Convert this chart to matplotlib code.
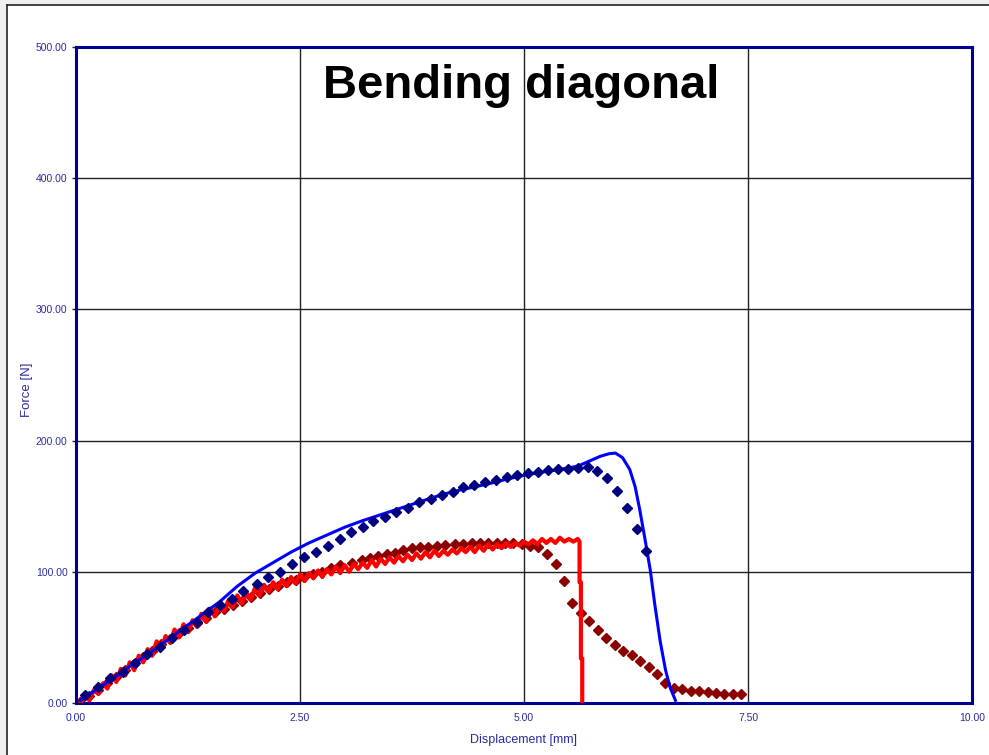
import matplotlib
matplotlib.use("Agg")
import matplotlib.pyplot as plt
from matplotlib.patches import Rectangle
from matplotlib.lines import Line2D

# Test record, bending along the diagonal: force vs displacement
# Simulation (solid) and experiment (diamonds), two specimen variants

# blue: simulation curve
sim_blue_x = [0.05, 0.2, 0.4, 0.6, 0.8, 1.0, 1.2, 1.4, 1.6, 1.8, 2.0, 2.2, 2.4, 2.6,
              2.8, 3.0, 3.2, 3.4, 3.6, 3.8, 4.0, 4.2, 4.4, 4.6, 4.8, 5.0, 5.2, 5.4,
              5.6, 5.75, 5.85, 5.95, 6.02, 6.10, 6.18, 6.24, 6.29, 6.35, 6.41, 6.46,
              6.52, 6.58, 6.63, 6.69]
sim_blue_y = [2, 9, 18, 28, 37, 47, 57, 67, 77, 89, 99, 107, 115, 122,
              128, 134, 139, 143.5, 148, 152.5, 157, 161, 164, 167, 170.5, 173.5, 176, 178,
              180.5, 185, 188, 190, 190.5, 187, 178, 165, 148, 125, 101, 75,
              47, 25, 12, 2]

# navy: experiment for the blue variant
exp_blue_x = [0.10, 0.25, 0.38, 0.52, 0.66, 0.79, 0.94, 1.07, 1.21, 1.35, 1.47, 1.61,
              1.74, 1.86, 2.02, 2.14, 2.28, 2.41, 2.54, 2.68, 2.81, 2.95, 3.07, 3.20,
              3.31, 3.45, 3.57, 3.71, 3.83, 3.96, 4.08, 4.21, 4.32, 4.44, 4.56, 4.69,
              4.81, 4.92, 5.04, 5.16, 5.27, 5.38, 5.49, 5.60, 5.71, 5.82, 5.93, 6.04,
              6.15, 6.26, 6.36]
exp_blue_y = [6, 12, 19, 24, 30.5, 37, 43, 49.5, 56, 62, 69, 75,
              79, 85, 91, 96, 100, 106, 111, 115, 120, 125, 130, 134,
              139, 142, 145.5, 149, 153, 155.5, 158.5, 161, 164.5, 166, 168.5, 170,
              172, 174, 175, 176, 177.5, 178, 178, 179, 180, 177, 171.5, 161.5,
              149, 132.5, 116]

# red: simulation curve (noisy signal)
sim_red_x = [0.05, 0.10, 0.15, 0.20, 0.25, 0.30, 0.35, 0.40, 0.45, 0.50, 0.55, 0.60,
             0.65, 0.70, 0.75, 0.80, 0.85, 0.90, 0.95, 1.00, 1.05, 1.10, 1.15, 1.20,
             1.25, 1.30, 1.35, 1.40, 1.45, 1.50, 1.55, 1.60, 1.65, 1.70, 1.75, 1.80,
             1.85, 1.90, 1.95, 2.00, 2.05, 2.10, 2.15, 2.20, 2.25, 2.30, 2.35, 2.40,
             2.45, 2.50, 2.55, 2.60, 2.65, 2.70, 2.75, 2.80, 2.85, 2.90, 2.95, 3.00,
             3.05, 3.10, 3.15, 3.20, 3.25, 3.30, 3.35, 3.40, 3.45, 3.50, 3.55, 3.60,
             3.65, 3.70, 3.75, 3.80, 3.85, 3.90, 3.95, 4.00, 4.05, 4.10, 4.15, 4.20,
             4.25, 4.30, 4.35, 4.40, 4.45, 4.50, 4.55, 4.60, 4.65, 4.70, 4.75, 4.80,
             4.85, 4.90, 4.95, 5.00, 5.05, 5.10, 5.15, 5.20, 5.25, 5.30, 5.35, 5.40,
             5.45, 5.50, 5.55, 5.60, 5.62, 5.62, 5.635, 5.635, 5.65, 5.65]
sim_red_y = [0, 5, 2, 10, 7, 15, 11, 21, 16, 26, 21, 31,
             25, 36, 31, 41, 36, 47, 41, 51, 46, 56, 50, 60,
             54, 63, 58, 68, 62, 72, 66, 75, 70, 78, 73, 82,
             76, 84, 79, 88, 82, 90, 85, 92, 87, 94, 89, 96,
             91, 98, 93, 99, 95, 101, 96, 102, 98, 104, 99, 105,
             100, 106, 102, 107, 103, 109, 104, 110, 106, 111, 107, 112,
             108, 113, 109, 114, 110, 115, 111, 116, 112, 116, 113, 117,
             114, 118, 115, 119, 115, 120, 116, 121, 117, 121, 118, 122,
             119, 122, 120, 123, 121, 124, 121, 125, 122, 125, 122, 126,
             123, 125, 123, 125, 123, 92, 92, 34, 34, 0]

# dark red: experiment for the red variant
exp_red_x = [0.05, 0.15, 0.25, 0.35, 0.45, 0.55, 0.65, 0.75, 0.85, 0.95, 1.05, 1.15,
             1.25, 1.35, 1.45, 1.55, 1.65, 1.75, 1.85, 1.95, 2.05, 2.15, 2.25, 2.35,
             2.45, 2.55, 2.65, 2.75, 2.85, 2.95, 3.08, 3.19, 3.28, 3.37, 3.47, 3.56,
             3.65, 3.75, 3.84, 3.93, 4.03, 4.12, 4.23, 4.32, 4.42, 4.51, 4.60, 4.70,
             4.79, 4.88, 4.98, 5.07, 5.16, 5.26, 5.36, 5.45, 5.54, 5.64, 5.73, 5.83,
             5.92, 6.02, 6.11, 6.21, 6.30, 6.39, 6.48, 6.57, 6.67, 6.76, 6.86, 6.95,
             7.05, 7.14, 7.23, 7.33, 7.42]
exp_red_y = [1, 5, 10, 15, 20, 25, 30, 35, 40, 45, 49, 53,
             57, 61, 65, 69, 72, 75, 78, 81, 84, 87, 89, 92,
             94, 96, 98, 100, 103, 105, 107, 109, 110.5, 112, 113.5, 114.5,
             116.5, 118, 119, 119, 120, 120.5, 121, 121, 122, 122, 122, 122,
             122, 122, 121, 120, 119, 113.5, 106, 93, 76, 68.5, 62.5, 56,
             49.5, 44, 40, 36.5, 32, 27.5, 22, 15, 11.5, 10.5, 9, 9,
             8.5, 7.5, 7, 7, 7]

x_ticks = [0.0, 2.5, 5.0, 7.5, 10.0]
y_ticks = [0, 100, 200, 300, 400, 500]

W, H = 989, 755
label_color = "#2b2ba0"

plt.rcParams["font.family"] = ["Liberation Sans", "DejaVu Sans"]

fig = plt.figure(figsize=(W / 100, H / 100), dpi=100, facecolor="#efefef")

# page frame: white sheet with a dark edge on top and left
fig.patches.append(Rectangle((7 / W, 0), 1, 1 - 5 / H, transform=fig.transFigure,
                             facecolor="white", edgecolor="none", zorder=-2))
fig.lines.append(Line2D([7 / W, 7 / W], [0, 1 - 5 / H], transform=fig.transFigure,
                        color="#222222", lw=1.2, zorder=-1))
fig.lines.append(Line2D([7 / W, 1], [1 - 5 / H, 1 - 5 / H], transform=fig.transFigure,
                        color="#222222", lw=1.2, zorder=-1))

ax = fig.add_axes([76 / W, 52 / H, 896 / W, 656 / H])
ax.set_zorder(1)
ax.set_xlim(0, 10)
ax.set_ylim(0, 500)

ax.plot(exp_red_x, exp_red_y, linestyle="none", marker="D", markersize=4.6,
        color="#8b0000", zorder=2)
ax.plot(sim_red_x, sim_red_y, color="#ff0000", lw=3.0, zorder=3)
ax.plot(sim_blue_x, sim_blue_y, color="#0000ff", lw=2.2, zorder=4)
ax.plot(exp_blue_x, exp_blue_y, linestyle="none", marker="D", markersize=4.6,
        color="#000080", zorder=5)

ax.set_xticks(x_ticks)
ax.set_xticklabels([f"{v:.2f}" for v in x_ticks])
ax.set_yticks(y_ticks)
ax.set_yticklabels([f"{v:.2f}" for v in y_ticks])
ax.tick_params(axis="x", length=0, pad=7, labelsize=7.5, labelcolor=label_color)
ax.tick_params(axis="y", length=3, width=1, color="#202020", pad=3,
               labelsize=7.5, labelcolor=label_color)
ax.grid(True, color="#202020", lw=1.0)
ax.set_axisbelow(True)

for sp in ax.spines.values():
    sp.set_color("#000090")
    sp.set_linewidth(2.2)

ax.text(0.497, 0.9223, "Bending diagonal", transform=ax.transAxes,
        ha="center", va="baseline", fontsize=34, fontweight="bold", color="black")

fig.text(524 / W, 1 - 740 / H, "Displacement [mm]", ha="center", va="center",
         fontsize=9, color=label_color)
fig.text(27 / W, 1 - 390 / H, "Force [N]", ha="center", va="center",
         rotation=90, fontsize=9.5, color=label_color)

fig.savefig("out.png", dpi=100, facecolor=fig.get_facecolor())
